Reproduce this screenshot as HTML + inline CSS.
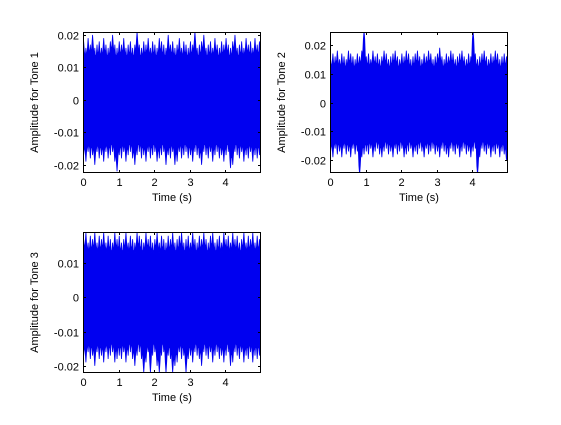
<!DOCTYPE html>
<html><head><meta charset="utf-8"><style>
body{margin:0;background:#fff;}
svg text{font-family:"Liberation Sans",Arial,sans-serif;font-size:11px;fill:#000;}
</style></head><body>
<svg id="fig" width="561" height="420" xmlns="http://www.w3.org/2000/svg"></svg>
<script>
// Amplitude envelopes in milli-units (value * 0.001), 80 samples over 0-5 s
const tone1Upper=[18,16,19,17,20,16,17,18,16,19,17,16,18,20,17,16,18,17,19,16,17,18,16,17,21,17,16,18,17,19,16,18,17,16,19,18,17,16,20,17,18,16,17,19,16,18,17,16,18,17,21,16,17,18,20,16,17,18,16,19,17,16,18,17,19,17,16,18,20,16,17,18,16,19,17,18,16,19,17,18];
const tone1Lower=[-17,-19,-16,-18,-17,-20,-16,-18,-17,-19,-16,-18,-17,-16,-19,-22,-17,-18,-16,-19,-17,-16,-18,-20,-17,-16,-18,-17,-19,-16,-18,-17,-16,-19,-18,-17,-16,-20,-17,-18,-16,-20,-19,-16,-18,-17,-16,-18,-17,-19,-16,-17,-18,-20,-16,-17,-18,-16,-19,-17,-16,-18,-17,-19,-17,-16,-21,-20,-16,-17,-18,-16,-19,-17,-18,-16,-19,-17,-18,-17];
const tone2Upper=[15,17,16,18,15,17,16,15,18,17,16,15,17,16,18,25,16,17,15,18,16,17,15,16,18,17,15,16,17,18,16,15,17,16,18,17,15,16,17,18,16,15,17,16,18,17,15,16,17,19,16,15,17,16,18,17,15,16,17,18,16,15,17,16,25,17,15,16,17,18,16,15,17,16,18,17,15,16,17,16];
const tone2Lower=[-17,-19,-16,-18,-17,-19,-16,-18,-17,-19,-16,-18,-17,-25,-19,-18,-17,-18,-16,-19,-17,-16,-18,-19,-17,-16,-18,-17,-19,-16,-18,-17,-16,-19,-18,-17,-16,-19,-17,-18,-16,-17,-19,-16,-18,-17,-16,-18,-17,-19,-16,-17,-18,-19,-16,-17,-18,-16,-19,-17,-16,-18,-17,-19,-17,-16,-25,-19,-16,-17,-18,-16,-19,-17,-18,-16,-19,-17,-18,-20];
const tone3Upper=[17,19,16,18,17,19,16,18,17,19,16,18,17,16,19,17,18,16,17,19,16,18,17,16,19,18,17,16,19,17,18,16,17,19,16,18,17,16,18,17,19,16,17,18,19,16,17,18,16,19,17,16,18,17,19,17,16,18,19,16,17,18,16,19,17,18,16,19,17,18,16,17,19,16,18,17,19,16,18,17];
const tone3Lower=[-17,-19,-16,-18,-17,-20,-16,-18,-17,-19,-16,-18,-17,-16,-19,-18,-17,-18,-16,-19,-17,-16,-18,-20,-17,-16,-18,-22,-19,-16,-22,-17,-16,-20,-22,-17,-16,-22,-17,-18,-22,-20,-19,-16,-18,-17,-22,-18,-17,-19,-16,-17,-18,-20,-16,-17,-18,-16,-19,-17,-16,-18,-17,-19,-17,-16,-20,-19,-16,-17,-18,-16,-19,-17,-18,-16,-19,-17,-18,-17];
const xTicks=[0,1,2,3,4];
const yTicks1=[-0.02,-0.01,0,0.01,0.02];
const yTicks2=[-0.02,-0.01,0,0.01,0.02];
const yTicks3=[-0.02,-0.01,0,0.01];
const tMax=5;
const NS="http://www.w3.org/2000/svg";
const svg=document.getElementById('fig');
function mk(tag,attrs,parent){const e=document.createElementNS(NS,tag);for(const k in attrs)e.setAttribute(k,attrs[k]);(parent||svg).appendChild(e);return e;}
function fmt(v){if(v===0)return '0';return String(Math.round(v*100)/100);}
function panel(id,box,ylim,up,lo,yt,label){
  const g=mk('g',{});
  
  
  const [L,T,R,B]=box;
  const xs=t=>L+(t/tMax)*(R-L);
  const ys=v=>B-(v-ylim[0])/(ylim[1]-ylim[0])*(B-T);
  const cp='clip-'+id;
  const cl=mk('clipPath',{id:cp},g);mk('rect',{x:L,y:T,width:R-L,height:B-T},cl);
  const n=up.length;const dt=tMax/n;
  let pts=[];
  for(let i=0;i<n;i++){
    pts.push(xs(i*dt)+','+ys((up[i]-3)*0.001));
    pts.push(xs(i*dt+dt*0.3)+','+ys(up[i]*0.001));
    pts.push(xs(i*dt+dt*0.6)+','+ys((up[i]-3)*0.001));}
  pts.push(xs(tMax)+','+ys((up[n-1]-3)*0.001));
  pts.push(xs(tMax)+','+ys((lo[n-1]+3)*0.001));
  for(let i=n-1;i>=0;i--){
    pts.push(xs(i*dt+dt*0.6)+','+ys((lo[i]+3)*0.001));
    pts.push(xs(i*dt+dt*0.3)+','+ys(lo[i]*0.001));
    pts.push(xs(i*dt)+','+ys((lo[i]+3)*0.001));}
  const p=mk('polygon',{points:pts.join(' '),fill:'#0000f0',stroke:'#0000f0','stroke-width':0.8,'clip-path':'url(#'+cp+')'},g);
  
  
  const f=mk('rect',{x:L+0.5,y:T+0.5,width:R-L-1,height:B-T-1,fill:'none',stroke:'#000','stroke-width':1},g);
  
  
  xTicks.forEach(t=>{const x=Math.round(xs(t))+0.5;
    mk('line',{x1:x,x2:x,y1:B,y2:B-3,stroke:'#000'},g);mk('line',{x1:x,x2:x,y1:T,y2:T+3,stroke:'#000'},g);
    const tx=mk('text',{x:x,y:B+13,'text-anchor':'middle'},g);tx.textContent=String(t);
    
    });
  yt.forEach(v=>{const y=Math.round(ys(v))+0.5;
    mk('line',{x1:L,x2:L+3,y1:y,y2:y,stroke:'#000'},g);mk('line',{x1:R-3,x2:R,y1:y,y2:y,stroke:'#000'},g);
    const tx=mk('text',{x:L-4,y:y+4,'text-anchor':'end'},g);tx.textContent=fmt(v);
    
    });
  const xl=mk('text',{x:(L+R)/2,y:B+28,'text-anchor':'middle'},g);xl.textContent='Time (s)';
  
  
  const cy=(T+B)/2,cx=L-45;
  const yl=mk('text',{x:cx,y:cy,'text-anchor':'middle',transform:'rotate(-90 '+cx+' '+cy+')'},g);yl.textContent=label;
  
  
}
panel('tone1',[83,32,261,173],[-0.0225,0.0209],tone1Upper,tone1Lower,yTicks1,'Amplitude for Tone 1');
panel('tone2',[330,32,508,173],[-0.0245,0.0245],tone2Upper,tone2Lower,yTicks2,'Amplitude for Tone 2');
panel('tone3',[83,232,261,373],[-0.0221,0.0191],tone3Upper,tone3Lower,yTicks3,'Amplitude for Tone 3');
</script>
</body></html>
